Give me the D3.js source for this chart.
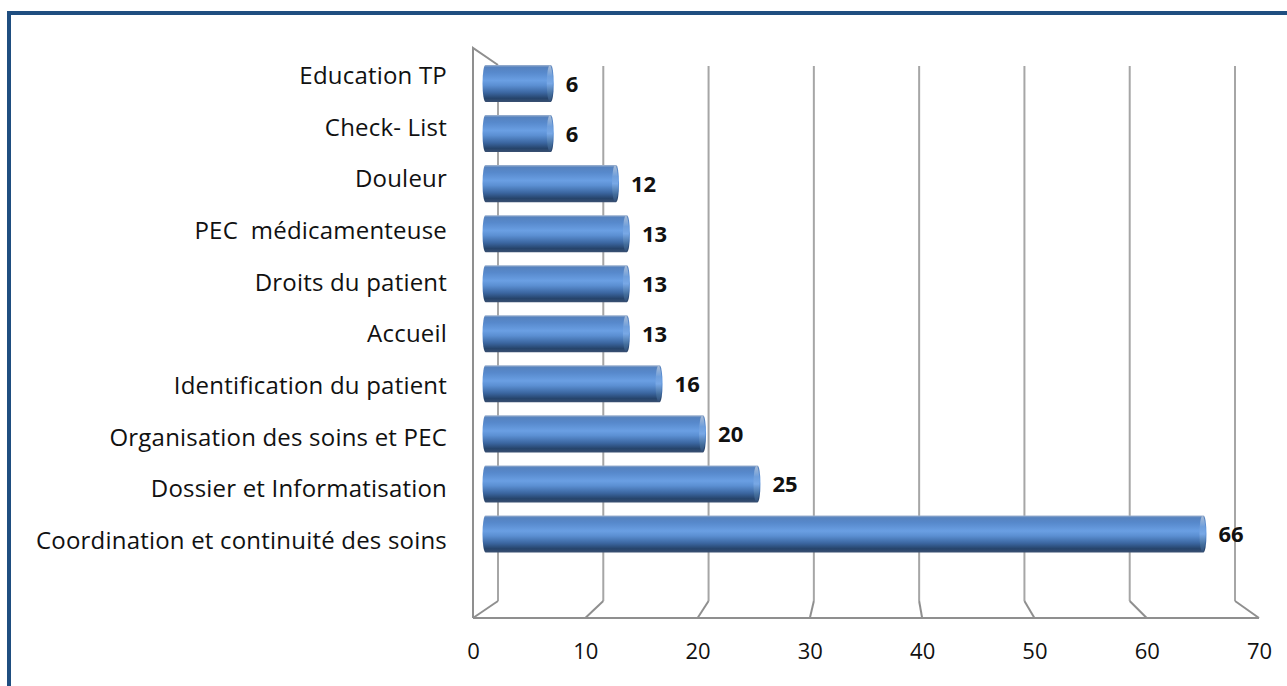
<!DOCTYPE html>
<html>
<head>
<meta charset="utf-8">
<script src="https://cdn.jsdelivr.net/npm/d3@7"></script>
<style>
  body { margin: 0; background: #fff; }
  text { font-family: "Open Sans", Lato, sans-serif; fill: #111; font-variant-ligatures: none; }
</style>
</head>
<body>
<div id="chart"></div>
<script>
// Data
const categories = [
  'Education TP',
  'Check- List',
  'Douleur',
  'PEC  médicamenteuse',
  'Droits du patient',
  'Accueil',
  'Identification du patient',
  'Organisation des soins et PEC',
  'Dossier et Informatisation',
  'Coordination et continuité des soins'
];
const values = [6, 6, 12, 13, 13, 13, 16, 20, 25, 66];
const tickValues = [0, 10, 20, 30, 40, 50, 60, 70];

const width = 1287, height = 686;

const svg = d3.select('#chart').append('svg')
    .attr('width', width)
    .attr('height', height);

// Frame (only top and left edges are visible in the picture)
svg.append('path')
    .attr('d', `M9,${height} L9,13 L${width},13`)
    .attr('fill', 'none')
    .attr('stroke', '#1f4e80')
    .attr('stroke-width', 4);

// 3D plot: front plane, back wall, and the bars in the middle
const floorFront = 618, floorBack = 601;
const wallTopFront = 48, wallTopBack = 65;

const xFront = d3.scaleLinear().domain([0, 70]).range([473, 1259]);
const xBack = d3.scaleLinear().domain([0, 70]).range([498, 1235]);
const xBar = d3.scaleLinear().domain([0, 70]).range([485.5, 1247]);

const yBar = d3.scaleBand().domain(categories).range([58.5, 559])
    .paddingInner(0.26).paddingOuter(0.13);
const yLabel = d3.scaleBand().domain(categories).range([49.7, 566.3]);

const grid = svg.append('g').attr('fill', 'none');

// back wall gridlines
grid.selectAll('.back')
    .data(tickValues)
  .join('line')
    .attr('x1', d => xBack(d)).attr('x2', d => xBack(d))
    .attr('y1', wallTopBack + 1).attr('y2', floorBack)
    .attr('stroke', '#a6a6a6')
    .attr('stroke-width', 2);

// floor diagonals
grid.selectAll('.diag')
    .data(tickValues)
  .join('line')
    .attr('x1', d => xBack(d)).attr('y1', floorBack)
    .attr('x2', d => xFront(d)).attr('y2', floorFront)
    .attr('stroke', '#8f8f8f')
    .attr('stroke-width', 2);

// front floor edge
grid.append('line')
    .attr('x1', xFront(0)).attr('x2', xFront(70))
    .attr('y1', floorFront).attr('y2', floorFront)
    .attr('stroke', '#8f8f8f')
    .attr('stroke-width', 2);

// side wall edges
grid.append('path')
    .attr('d', `M${xFront(0)},${floorFront} L${xFront(0)},${wallTopFront} L${xBack(0)},${wallTopBack}`)
    .attr('stroke', '#8f8f8f')
    .attr('stroke-width', 2);

// Cylinder shading
const defs = svg.append('defs');
const grad = defs.append('linearGradient')
    .attr('id', 'cyl')
    .attr('x1', 0).attr('y1', 0).attr('x2', 0).attr('y2', 1);
[
  [0, '#9fb3cf'], [0.06, '#5582bf'], [0.2, '#5789cc'], [0.42, '#6a9fe3'],
  [0.55, '#5b8fd2'], [0.75, '#3b66a0'], [0.9, '#26446b'], [1, '#3a5072']
].forEach(([o, c]) => grad.append('stop').attr('offset', o).attr('stop-color', c));

const capGrad = defs.append('linearGradient')
    .attr('id', 'cap')
    .attr('x1', 0).attr('y1', 0).attr('x2', 0).attr('y2', 1);
[
  [0, '#a9bcd6'], [0.3, '#6f9fdc'], [0.5, '#78a8e6'], [0.8, '#436d9b'], [1, '#324e77']
].forEach(([o, c]) => capGrad.append('stop').attr('offset', o).attr('stop-color', c));

const rx = 3;
const bars = svg.append('g');

bars.selectAll('path')
    .data(values)
  .join('path')
    .attr('d', (d, i) => {
      const y0 = yBar(categories[i]), h = yBar.bandwidth();
      const x0 = xBar(0), x1 = xBar(d);
      return `M${x0},${y0} L${x1},${y0} A${rx},${h / 2} 0 0 1 ${x1},${y0 + h}` +
             ` L${x0},${y0 + h} A${rx},${h / 2} 0 0 1 ${x0},${y0} Z`;
    })
    .attr('fill', 'url(#cyl)');

bars.selectAll('ellipse')
    .data(values)
  .join('ellipse')
    .attr('cx', d => xBar(d) - 1)
    .attr('cy', (d, i) => yBar(categories[i]) + yBar.bandwidth() / 2)
    .attr('rx', rx)
    .attr('ry', yBar.bandwidth() / 2 - 0.5)
    .attr('fill', 'url(#cap)');

// Value labels
svg.append('g').selectAll('text')
    .data(values)
  .join('text')
    .attr('x', d => xBar(d) + 15)
    .attr('y', (d, i) => yBar(categories[i]) + yBar.bandwidth() / 2 + 8)
    .attr('font-size', 22)
    .attr('font-weight', 'bold')
    .text(d => d);

// Category labels
svg.append('g').selectAll('text')
    .data(categories)
  .join('text')
    .attr('x', 447)
    .attr('y', d => yLabel(d) + yLabel.bandwidth() / 2 + 8.5)
    .attr('text-anchor', 'end')
    .attr('font-size', 24)
    .attr('letter-spacing', 0.2)
    .style('white-space', 'pre')
    .text(d => d);

// X axis labels
const xAxis = svg.append('g')
    .attr('transform', `translate(0,${floorFront})`)
    .call(d3.axisBottom(xFront).tickValues(tickValues).tickSize(0).tickPadding(25));
xAxis.select('.domain').remove();
xAxis.selectAll('text')
    .attr('font-size', 22)
    .style('font-family', '"Open Sans", Lato, sans-serif')
    .style('fill', '#111');
</script>
</body>
</html>
